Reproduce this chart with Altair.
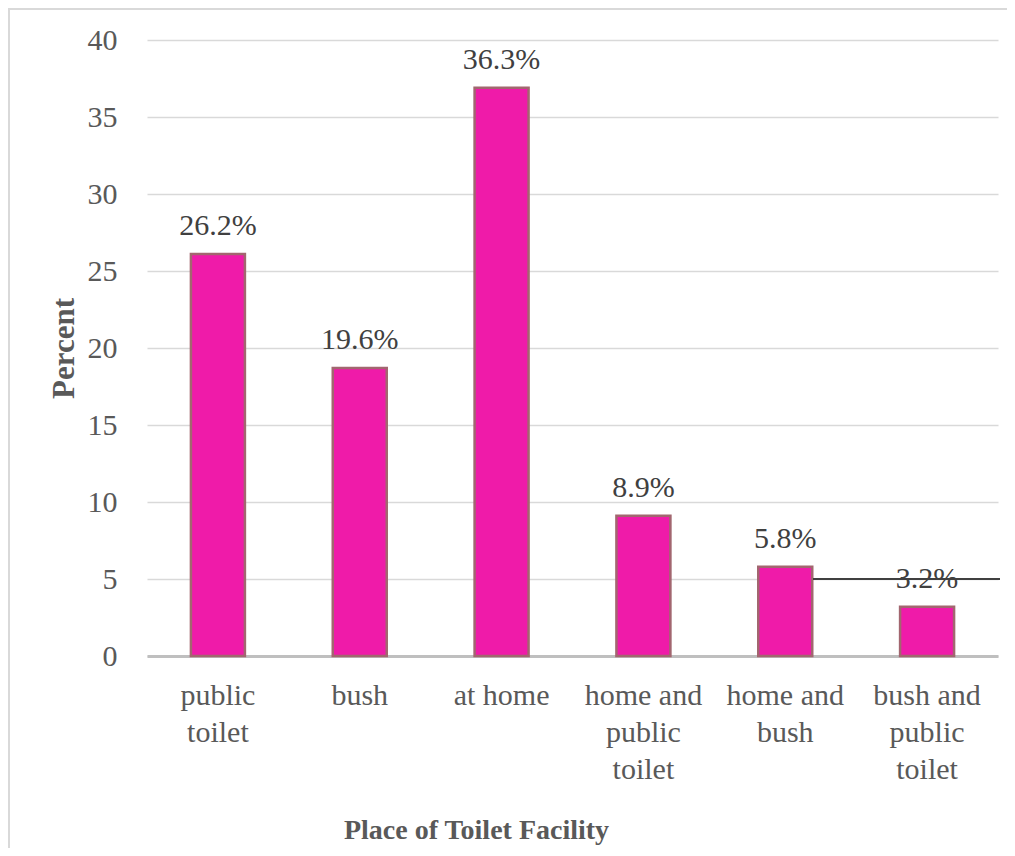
import json
import altair as alt
import pandas as pd

categories = ["public toilet", "bush", "at home", "home and public toilet",
              "home and bush", "bush and public toilet"]
label_lines = [["public", "toilet"], ["bush"], ["at home"],
               ["home and", "public", "toilet"], ["home and", "bush"],
               ["bush and", "public", "toilet"]]
bar_values = [26.1, 18.7, 36.9, 9.1, 5.8, 3.2]
value_labels = ["26.2%", "19.6%", "36.3%", "8.9%", "5.8%", "3.2%"]
y_ticks = [0, 5, 10, 15, 20, 25, 30, 35, 40]

df = pd.DataFrame({"cat": categories, "val": bar_values, "lab": value_labels})

FONT = "Liberation Serif"
W, H = 851, 616

lines_map = json.dumps(dict(zip(categories, label_lines)))

x_enc = alt.X(
    "cat:N", sort=categories,
    scale=alt.Scale(paddingInner=0, paddingOuter=0),
    axis=alt.Axis(
        title="Place of Toilet Facility",
        labelExpr=f"{lines_map}[datum.value]",
        labelAngle=0, labelFont=FONT, labelFontSize=30, labelColor="#595959",
        labelLineHeight=37, labelPadding=24, labelBaseline="top",
        ticks=False, domainColor="#bfbfbf", domainWidth=3,
        titleFont=FONT, titleFontSize=28, titleFontWeight="bold",
        titleColor="#595959", titleX=329, titleY=182,
        titleBaseline="alphabetic", titleAlign="center",
    ),
)
y_scale = alt.Scale(domain=[0, 40])

bars = alt.Chart(df).mark_bar(
    width=54, fill="#EF1BA9", stroke="#A2666F", strokeWidth=2.5
).encode(
    x=x_enc,
    y=alt.Y("val:Q", scale=y_scale,
            axis=alt.Axis(
                values=y_ticks, title="Percent", grid=True,
                gridColor="#d9d9d9", gridWidth=1.5, domain=False, ticks=False,
                labelFont=FONT, labelFontSize=30, labelColor="#595959",
                labelPadding=30,
                titleFont=FONT, titleFontSize=31, titleFontWeight="bold",
                titleColor="#595959", titleAngle=270, titleX=-74, titleY=308,
                titleBaseline="alphabetic", titleAlign="center",
            )),
)

texts = alt.Chart(df).mark_text(
    font=FONT, fontSize=30, color="#404040", baseline="alphabetic", dy=-19
).encode(
    x=alt.X("cat:N", sort=categories),
    y=alt.Y("val:Q", scale=y_scale),
    text="lab:N",
)

line = alt.Chart(df).mark_rule(color="#404040", strokeWidth=2).encode(
    x=alt.value(666), x2=alt.value(853), y=alt.datum(5)
)

frame_top = alt.Chart(df).mark_rule(color="#d9d9d9", strokeWidth=2, clip=False).encode(
    x=alt.value(-139), x2=alt.value(900), y=alt.value(-31)
)
frame_left = alt.Chart(df).mark_rule(color="#d9d9d9", strokeWidth=2, clip=False).encode(
    x=alt.value(-138), y=alt.value(-32), y2=alt.value(900)
)

chart = alt.layer(bars, texts, line, frame_top, frame_left).properties(
    width=W, height=H,
    autosize=alt.AutoSizeParams(type="none"),
    padding={"left": 139, "top": 32, "right": 9, "bottom": 192},
).configure_view(stroke=None)

chart.save("out.html", embed_options={"renderer": "svg", "actions": False})
